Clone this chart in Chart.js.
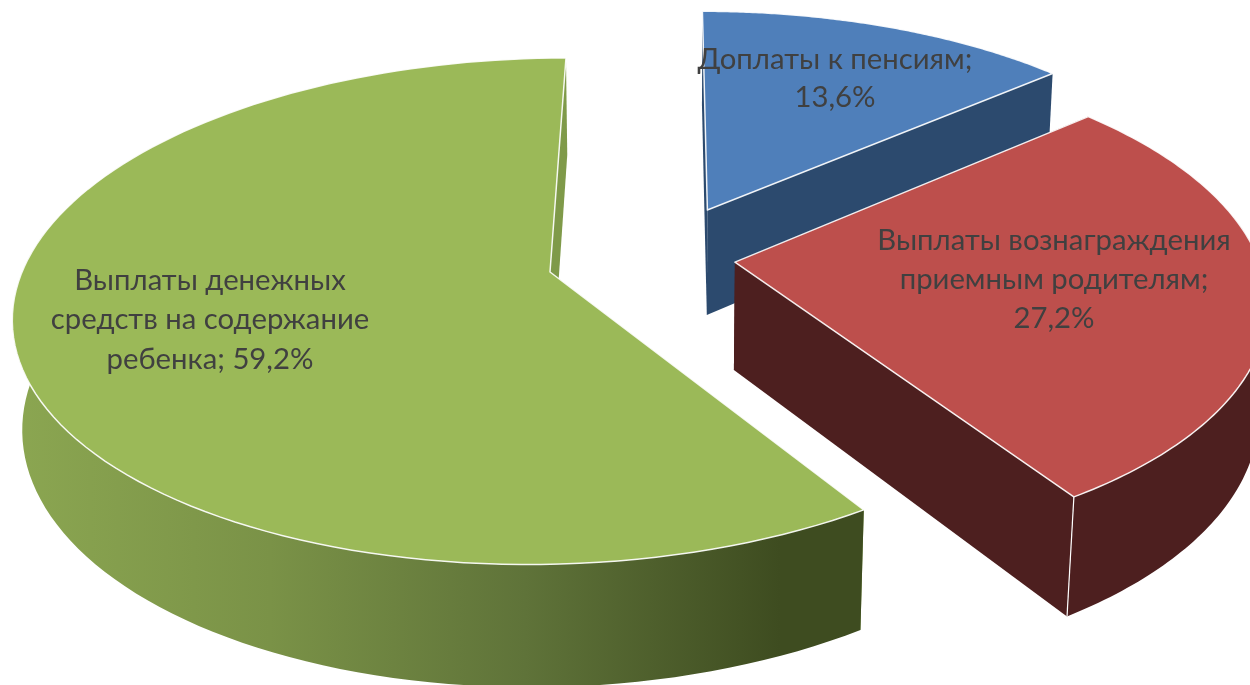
<!DOCTYPE html>
<html>
<head>
<meta charset="utf-8">
<style>
    html, body { margin: 0; padding: 0; background: #fff; overflow: hidden; }
    canvas { display: block; }
</style>
<script src="https://cdn.jsdelivr.net/npm/chart.js@4/dist/chart.umd.min.js"></script>
</head>
<body>
<canvas id="myChart" width="1250" height="685"></canvas>
<script>
const categories = ['Доплаты к пенсиям', 'Выплаты вознаграждения приемным родителям', 'Выплаты денежных средств на содержание ребенка'];
const shares = [13.6, 27.2, 59.2];

const topColors = ['#4f7fba', '#bd4f4c', '#9bb958'];
const wallColors = ['#2c4a6e', '#4d1f1f', '#7f9a49'];

// how far each slice is pulled out, in pie radii
const explode = [[0.301, -0.261], [0.351, -0.04], [0, 0]];

// perspective of the pie plane, fitted to the picture
const view = { a: 528, b: -103.7, c: 550, d: 205, f: 272, g: -0.155, p: 10, q: 0.015, r: 114 };

function project(u, v, h) {
    const w = view.g * v + 1 + view.q * h;
    return [(view.a * u + view.b * v + view.c + view.p * h) / w, (view.d * v + view.f + view.r * h) / w];
}

function rimAngles(arc) {
    const angles = [];
    const steps = 120;
    for (let s = 0; s <= steps; s++) {
        angles.push(arc.startAngle + (arc.endAngle - arc.startAngle) * s / steps);
    }
    return angles;
}

function rimPoint(t, i, h) {
    return project(Math.cos(t) + explode[i][0], Math.sin(t) + explode[i][1], h);
}

function fillPoly(ctx, pts, fill, stroke, lineWidth) {
    ctx.beginPath();
    pts.forEach((p, n) => n ? ctx.lineTo(p[0], p[1]) : ctx.moveTo(p[0], p[1]));
    ctx.closePath();
    ctx.fillStyle = fill;
    ctx.fill();
    if (stroke) {
        ctx.strokeStyle = stroke;
        ctx.lineWidth = lineWidth;
        ctx.lineJoin = 'round';
        ctx.stroke();
    }
}

const pie3d = {
    id: 'pie3d',
    beforeDatasetsDraw(chart) {
        const ctx = chart.ctx;
        const arcs = chart.getDatasetMeta(0).data;
        const greenWall = ctx.createLinearGradient(15, 0, 865, 0);
        greenWall.addColorStop(0, '#8ba651');
        greenWall.addColorStop(0.3, '#7a9247');
        greenWall.addColorStop(0.6, '#5f7339');
        greenWall.addColorStop(0.9, '#3e4c20');
        greenWall.addColorStop(1, '#3e4c20');

        arcs.forEach((arc, i) => {
            const angles = rimAngles(arc);
            const top = angles.map(t => rimPoint(t, i, 0));
            const bottom = angles.map(t => rimPoint(t, i, 1));
            const apexTop = project(explode[i][0], explode[i][1], 0);
            const apexBottom = project(explode[i][0], explode[i][1], 1);
            const last = top.length - 1;
            const side = i === 2 ? greenWall : wallColors[i];
            // start and end faces
            fillPoly(ctx, [apexTop, top[0], bottom[0], apexBottom], wallColors[i]);
            fillPoly(ctx, [apexTop, top[last], bottom[last], apexBottom], wallColors[i]);
            // round outer face, only the part turned towards the viewer
            const front = angles.filter(t => Math.sin(t) >= -0.2);
            const frontTop = front.map(t => rimPoint(t, i, 0));
            const frontBottom = front.map(t => rimPoint(t, i, 1)).reverse();
            fillPoly(ctx, frontTop.concat(frontBottom), side);
            if (i === 1) {
                ctx.beginPath();
                ctx.moveTo(top[last][0], top[last][1]);
                ctx.lineTo(bottom[last][0], bottom[last][1]);
                ctx.strokeStyle = '#fff';
                ctx.lineWidth = 1.2;
                ctx.stroke();
            }
            fillPoly(ctx, [apexTop].concat(top), topColors[i], 'rgba(255,255,255,0.9)', 1.5);
        });
        return false;
    },
    afterDraw(chart) {
        const ctx = chart.ctx;
        ctx.font = '29.3px Lato, "Noto Sans", sans-serif';
        ctx.fillStyle = '#404040';
        ctx.textAlign = 'center';
        ctx.textBaseline = 'middle';
        const pct = shares.map(v => v.toFixed(1).replace('.', ',') + '%');
        ctx.fillText('Доплаты к пенсиям;', 835, 60);
        ctx.fillText(pct[0], 835, 98);
        ctx.fillText('Выплаты вознаграждения', 1054, 241);
        ctx.fillText('приемным родителям;', 1054, 280);
        ctx.fillText(pct[1], 1054, 319);
        ctx.fillText('Выплаты денежных', 210, 281);
        ctx.fillText('средств на содержание', 210, 320);
        ctx.fillText('ребенка; ' + pct[2], 210, 360);
    }
};

new Chart(document.getElementById('myChart').getContext('2d'), {
    type: 'pie',
    data: {
        labels: categories,
        datasets: [{
            data: shares,
            backgroundColor: topColors,
            borderColor: '#fff'
        }]
    },
    options: {
        responsive: false,
        animation: false,
        plugins: {
            legend: { display: false },
            tooltip: { enabled: false }
        }
    },
    plugins: [pie3d]
});
</script>
</body>
</html>
